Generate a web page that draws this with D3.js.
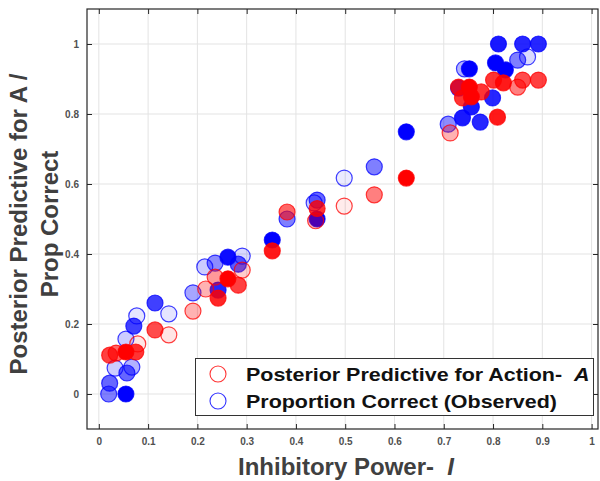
<!DOCTYPE html>
<html><head><meta charset="utf-8">
<script src="https://cdn.jsdelivr.net/npm/d3@7"></script>
<style>body{margin:0;background:#fff;}svg{display:block;font-family:"Liberation Sans",Arial,Helvetica,sans-serif;}</style>
</head><body><svg id="c" width="600" height="481"></svg>
<script>
// Predicted (red): [inhibitory power, value, fill opacity]
const predicted = [
 [0.022,0.111,0.75],[0.035,0.117,0.6],[0.055,0.12,1],[0.075,0.12,0.8],[0.079,0.143,0.1],
 [0.114,0.183,0.7],[0.142,0.169,0.1],[0.191,0.237,0.3],[0.217,0.30,0.3],[0.236,0.334,0.4],
 [0.242,0.274,0.85],[0.262,0.329,1],[0.291,0.354,0.2],[0.283,0.311,0.75],[0.352,0.409,0.9],
 [0.382,0.52,0.6],[0.443,0.53,0.8],[0.44,0.495,0.3],[0.498,0.537,0.08],[0.559,0.569,0.5],
 [0.624,0.617,1],[0.713,0.746,0.3],[0.73,0.877,0.8],[0.738,0.846,0.8],[0.752,0.877,1],
 [0.756,0.849,1],[0.776,0.863,0.8],[0.801,0.897,0.8],[0.809,0.791,0.9],[0.821,0.889,0.9],
 [0.85,0.877,0.5],[0.86,0.897,0.7],[0.892,0.897,0.75]
];
// Observed (blue): [inhibitory power, value, fill opacity]
const observed = [
 [0.022,0.031,0.6],[0.02,0.0,0.5],[0.055,0.0,1],[0.033,0.074,0.2],[0.057,0.06,0.6],
 [0.067,0.077,0.3],[0.055,0.157,0.2],[0.071,0.194,0.75],[0.077,0.223,0.1],[0.114,0.26,0.75],
 [0.142,0.229,0.1],[0.191,0.289,0.35],[0.215,0.363,0.2],[0.236,0.374,0.45],[0.242,0.297,0.85],
 [0.262,0.391,0.95],[0.291,0.394,0.15],[0.283,0.371,0.65],[0.352,0.44,1],[0.382,0.50,0.5],
 [0.437,0.546,0.2],[0.443,0.554,0.6],[0.443,0.50,1],[0.498,0.617,0.08],[0.559,0.649,0.5],
 [0.624,0.749,1],[0.709,0.771,0.45],[0.73,0.874,0.8],[0.742,0.929,0.3],[0.752,0.929,1],
 [0.756,0.82,0.9],[0.738,0.789,0.9],[0.774,0.777,0.85],[0.799,0.846,0.85],[0.805,0.946,1],
 [0.811,1.0,0.9],[0.825,0.926,1],[0.85,0.954,0.5],[0.87,0.963,0.15],[0.86,1.0,0.85],[0.892,1.0,0.85]
];
const xTicks = [0,0.1,0.2,0.3,0.4,0.5,0.6,0.7,0.8,0.9,1];
const yTicks = [0,0.2,0.4,0.6,0.8,1];
const legendLabels = ["Posterior Predictive for Action-  ", "Proportion Correct (Observed)"];

const svg = d3.select("#c");
const L=87, R=598, T=9, B=429;
const x = d3.scaleLinear().domain([-0.024,1.013]).range([L,R]);
const y = d3.scaleLinear().domain([-0.1,1.1]).range([B,T]);

// grid
const g = svg.append("g");
g.selectAll(".gx").data(xTicks).enter().append("line")
 .attr("x1",d=>x(d)).attr("x2",d=>x(d)).attr("y1",T).attr("y2",B)
 .attr("stroke","#e3e3e3").attr("stroke-width",1);
g.selectAll(".gy").data(yTicks).enter().append("line")
 .attr("y1",d=>y(d)).attr("y2",d=>y(d)).attr("x1",L).attr("x2",R)
 .attr("stroke","#e3e3e3").attr("stroke-width",1);

// axes (inward ticks)
const tickStyle = sel => { sel.select(".domain").remove(); sel.selectAll("line").attr("stroke","#262626");
  sel.selectAll("text").attr("fill","#505050").style("font-size","10px").style("font-weight","bold"); };
svg.append("g").attr("transform",`translate(0,${B})`)
 .call(d3.axisBottom(x).tickValues(xTicks).tickSize(-5).tickPadding(9).tickFormat(d3.format("~g")))
 .call(tickStyle);
svg.append("g").attr("transform",`translate(0,${T})`)
 .call(d3.axisTop(x).tickValues(xTicks).tickSize(-5).tickFormat(""))
 .call(tickStyle);
svg.append("g").attr("transform",`translate(${L},0)`)
 .call(d3.axisLeft(y).tickValues(yTicks).tickSize(-5).tickPadding(8).tickFormat(d3.format("~g")))
 .call(tickStyle);
svg.append("g").attr("transform",`translate(${R},0)`)
 .call(d3.axisRight(y).tickValues(yTicks).tickSize(-5).tickFormat(""))
 .call(tickStyle);
svg.append("rect").attr("x",L).attr("y",T).attr("width",R-L).attr("height",B-T)
 .attr("fill","none").attr("stroke","#262626").attr("stroke-width",1.2);

// points
const r = 8;
function draw(data,color){
 svg.append("g").selectAll("circle").data(data).enter().append("circle")
  .attr("cx",d=>x(d[0])).attr("cy",d=>y(d[1])).attr("r",r)
  .attr("fill",color).attr("fill-opacity",d=>d[2])
  .attr("stroke",color).attr("stroke-opacity",0.75).attr("stroke-width",1.2);
}
draw(observed,"#0000ff");
draw(predicted,"#ff0000");

// legend
const lg = svg.append("g");
lg.append("rect").attr("x",195.5).attr("y",358.5).attr("width",398).attr("height",57)
 .attr("fill","#fff").attr("stroke","#333").attr("stroke-width",1);
const lc = ["#ff0000","#0000ff"];
legendLabels.forEach((t,i)=>{
 const cy = 374 + i*27;
 lg.append("circle").attr("cx",218).attr("cy",cy).attr("r",8).attr("fill","none")
  .attr("stroke",lc[i]).attr("stroke-opacity",0.8).attr("stroke-width",1.1);
 const tx = lg.append("text").attr("transform",`translate(246,${cy+7}) scale(1.16,1)`).attr("fill","#111")
  .style("font-size","18.5px").style("font-weight","bold").attr("xml:space","preserve");
 tx.append("tspan").text(t);
 if(i===0) tx.append("tspan").style("font-style","italic").text("A");
});

// axis labels
const xl = svg.append("text").attr("x",346).attr("y",475).attr("text-anchor","middle")
 .attr("fill","#404040").style("font-size","24px").style("font-weight","bold").attr("xml:space","preserve");
xl.append("tspan").text("Inhibitory Power-  ");
xl.append("tspan").style("font-style","italic").text("I");
const yl = svg.append("text").attr("transform","translate(27,224) rotate(-90)").attr("text-anchor","middle")
 .attr("fill","#404040").style("font-size","24px").style("font-weight","bold");
yl.append("tspan").attr("x",0).attr("y",0).text("Posterior Predictive for A /");
yl.append("tspan").attr("x",0).attr("y",31).text("Prop Correct");
</script></body></html>
